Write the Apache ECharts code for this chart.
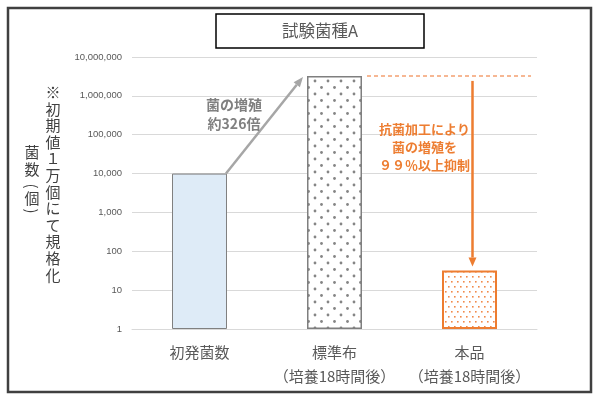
<!DOCTYPE html>
<html>
<head>
<meta charset="utf-8">
<script src="https://cdn.jsdelivr.net/npm/echarts@6/dist/echarts.min.js"></script>
<style>
html,body{margin:0;padding:0;background:#fff;}
#chart{width:600px;height:400px;}
</style>
</head>
<body>
<div id="chart"></div>
<script>
// ---- data ----
const categories = ['初発菌数', '標準布\n（培養18時間後）', '本品\n（培養18時間後）'];
const counts = [10000, 3260000, 32];
const yTicks = [1, 10, 100, 1000, 10000, 100000, 1000000, 10000000];
const titleText = '試験菌種A';
const growthNote = '菌の増殖\n約326倍';
const suppressNote = '抗菌加工により\n菌の増殖を\n９９％以上抑制';
const yNameOuter = '※初期値１万個にて規格化';
const yNameInner = ['菌', '数', '（', '個', '）'];

const JP = "'Noto Sans CJK JP', 'Noto Sans', sans-serif";
const ORANGE = '#ed7d31';

function makePattern(w, h, dots, color, r, square) {
  const c = document.createElement('canvas');
  c.width = w; c.height = h;
  const ctx = c.getContext('2d');
  ctx.fillStyle = '#ffffff';
  ctx.fillRect(0, 0, w, h);
  ctx.fillStyle = color;
  dots.forEach(d => {
    if (square) { ctx.fillRect(d[0], d[1], r, r); }
    else { ctx.beginPath(); ctx.arc(d[0], d[1], r, 0, Math.PI * 2); ctx.fill(); }
  });
  return c;
}
const grayDots = makePattern(13, 13, [[3, 3], [9.5, 9.5]], '#858585', 1.4, false);
const orangeDots = makePattern(6, 10, [[1, 1], [4, 6]], '#f08a4b', 1.6, true);

const BAR_W = 55;
const chart = echarts.init(document.getElementById('chart'));

const barStyles = [
  { color: '#deebf7', borderColor: '#808080', borderWidth: 1 },
  { color: { image: grayDots, repeat: 'repeat' }, borderColor: '#7f7f7f', borderWidth: 1.5 },
  { color: { image: orangeDots, repeat: 'repeat' }, borderColor: ORANGE, borderWidth: 2 }
];

chart.setOption({
  animation: false,
  grid: { left: 132, right: 63, top: 57, bottom: 71, containLabel: false },
  xAxis: {
    type: 'category',
    data: categories,
    axisLine: { show: true, lineStyle: { color: '#d9d9d9', width: 1 } },
    axisTick: { show: false },
    axisLabel: {
      interval: 0, margin: 11, color: '#595959', fontSize: 15,
      lineHeight: 24, fontFamily: JP
    }
  },
  yAxis: {
    type: 'log',
    logBase: 10,
    min: yTicks[0],
    max: yTicks[yTicks.length - 1],
    splitNumber: yTicks.length - 1,
    axisLine: { show: false },
    axisTick: { show: false },
    splitLine: { show: true, lineStyle: { color: '#d9d9d9', width: 1 } },
    axisLabel: {
      margin: 10, color: '#595959', fontSize: 9.5,
      fontFamily: "'Liberation Sans', Arial, sans-serif",
      formatter: v => Math.round(v).toLocaleString('en-US')
    }
  },
  series: [{
    type: 'bar',
    barWidth: BAR_W,
    data: counts.map((v, i) => ({ value: v, itemStyle: barStyles[i] }))
  }]
});

function px(i, v) { return chart.convertToPixel({ xAxisIndex: 0, yAxisIndex: 0 }, [i, v]); }

function arrow(x1, y1, x2, y2, color, width, headL, headW) {
  const dx = x2 - x1, dy = y2 - y1;
  const len = Math.sqrt(dx * dx + dy * dy);
  const ux = dx / len, uy = dy / len;
  const bx = x2 - ux * headL, by = y2 - uy * headL;
  const nx = -uy, ny = ux;
  return [
    { type: 'line', z: 20, shape: { x1: x1, y1: y1, x2: bx, y2: by }, style: { stroke: color, lineWidth: width } },
    { type: 'polygon', z: 20, shape: { points: [[x2, y2], [bx + nx * headW / 2, by + ny * headW / 2], [bx - nx * headW / 2, by - ny * headW / 2]] }, style: { fill: color } }
  ];
}

const p0 = px(0, counts[0]);
const p1 = px(1, counts[1]);
const p2 = px(2, counts[2]);
const half = BAR_W / 2;
const gridRight = 600 - 63;

const g = [];
// outer frame
g.push({ type: 'rect', z: 1, shape: { x: 8, y: 8, width: 583, height: 384 }, style: { fill: 'none', stroke: '#404040', lineWidth: 2.5 } });
// title box
g.push({ type: 'rect', z: 5, shape: { x: 216, y: 14, width: 208, height: 34 }, style: { fill: '#fff', stroke: '#000', lineWidth: 1.5 } });
g.push({ type: 'text', z: 6, x: 320, y: 31, style: { text: titleText, fill: '#595959', font: '16.5px ' + JP, align: 'center', verticalAlign: 'middle' } });

// y axis names (vertical)
g.push({ type: 'text', z: 6, x: 53, y: 84, style: { text: yNameOuter.split('').join('\n'), fill: '#404040', fontSize: 15, fontFamily: JP, lineHeight: 16.6, align: 'center', verticalAlign: 'top' } });
const innerY = [152, 169, 186, 198, 211];
yNameInner.forEach((ch, k) => {
  const isParen = (ch === '（' || ch === '）');
  const yy = innerY[k];
  g.push({
    type: 'text', z: 6, x: 32 + (isParen ? 0 : 0), y: yy,
    rotation: isParen ? -Math.PI / 2 : 0,
    style: { text: isParen ? (ch === '（' ? '(' : ')') : ch, fill: '#404040', fontSize: 15, fontFamily: JP, align: 'center', verticalAlign: 'middle' }
  });
});

// gray growth arrow
g.push(...arrow(p0[0] + half - 1, p0[1], p1[0] - half - 4, p1[1] + 1, '#a6a6a6', 2.5, 10, 8));
const gmx = (p0[0] + half + p1[0] - half) / 2, gmy = (p0[1] + p1[1]) / 2;
g.push({ type: 'text', z: 21, x: gmx - 33, y: gmy - 11, style: { text: growthNote, fill: '#808080', fontSize: 14, fontWeight: 'bold', fontFamily: JP, lineHeight: 19, align: 'center', verticalAlign: 'middle' } });

// orange dashed reference line
g.push({ type: 'line', z: 20, shape: { x1: p1[0] + half + 5, y1: p1[1], x2: gridRight - 6, y2: p1[1] }, style: { stroke: '#f4a070', lineWidth: 1.5, lineDash: [4, 3] } });
// orange suppression arrow
g.push(...arrow(p2[0] + 3, p1[1] + 5, p2[0] + 3, p2[1] - 4, ORANGE, 2.5, 9, 8));
g.push({ type: 'text', z: 21, x: p2[0] - 45, y: (p1[1] + p2[1]) / 2 - 26, style: { text: suppressNote, fill: ORANGE, fontSize: 13, fontWeight: 'bold', fontFamily: JP, lineHeight: 18, align: 'center', verticalAlign: 'middle' } });

chart.setOption({ graphic: g });
</script>
</body>
</html>
